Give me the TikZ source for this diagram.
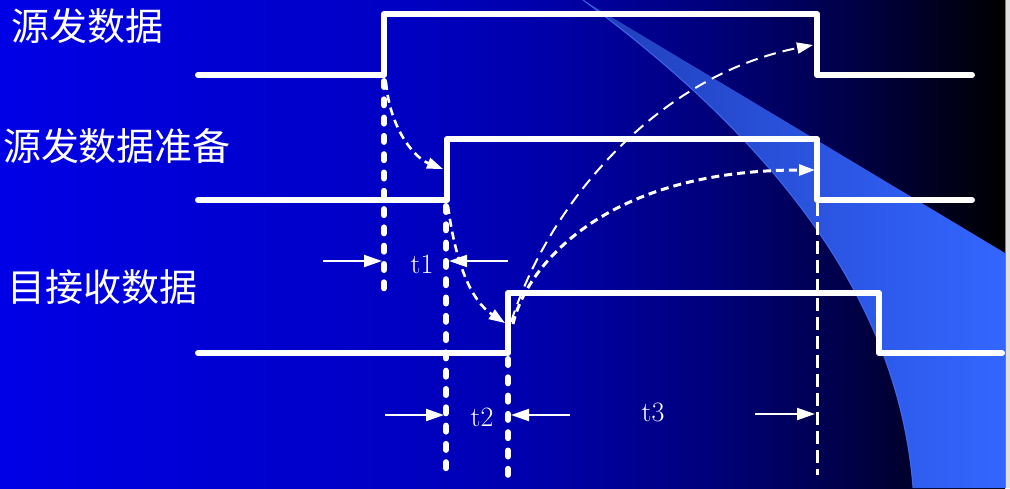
\documentclass[tikz,border=0pt]{standalone}
\usepackage{fontspec}
\newfontfamily\cjk{Noto Sans CJK SC}
\usetikzlibrary{arrows.meta}
\definecolor{bgA}{RGB}{0,0,230}
\definecolor{bgB}{RGB}{0,0,195}
\definecolor{bgC}{RGB}{0,0,168}
\definecolor{bgD}{RGB}{0,0,125}
\definecolor{bgE}{RGB}{0,0,70}
\definecolor{bandA}{RGB}{32,62,185}
\definecolor{bandB}{RGB}{51,102,255}
\definecolor{bandEdge}{RGB}{75,115,245}
\definecolor{frameG}{RGB}{225,225,225}
\pgfdeclarehorizontalshading{bgshade}{100bp}{color(0bp)=(bgA); color(25bp)=(bgA); color(45bp)=(bgB); color(52.5bp)=(bgC); color(60bp)=(bgD); color(67.5bp)=(bgE); color(75bp)=(black); color(100bp)=(black)}
\tikzset{
  wave/.style={white, line width=6pt, line join=round, line cap=round},
  thickdash/.style={white, line width=6pt, line cap=round, dash pattern=on 6pt off 12.3pt},
  thindash/.style={white, line width=3pt, dash pattern=on 13pt off 6pt},
  curvearrow/.style={white, line width=2.6pt, dash pattern=on 8pt off 5pt, -{Triangle[length=16pt,width=11pt]}},
  dimarrow/.style={white, line width=2pt, -{Triangle[length=18pt,width=12pt]}},
  lbl/.style={text=white, inner sep=0pt, font=\cjk\fontsize{38}{40}\selectfont},
  tlbl/.style={text=white, inner sep=0pt, font=\fontsize{28}{30}\selectfont},
}
\begin{document}
\begin{tikzpicture}[x=1pt, y=-1pt]
\useasboundingbox (0,0) rectangle (1010,488);
% background
\shade[shading=bgshade] (0,0) rectangle (1005,488);
\fill[frameG] (1005,0) rectangle (1010,488);
\draw[gray, line width=0.8pt] (1005.4,0) -- (1005.4,488);
% light band
\shade[left color=bandA, middle color=bandB, right color=bandB]
  (583,0) -- (1005,253) -- (1005,488) -- (913,488)
  .. controls (900,320) and (800,160) .. (583,0) -- cycle;
\draw[bandEdge, line width=1pt, opacity=0.8] (583,0) .. controls (800,160) and (900,320) .. (913,488);
% waveform corner coordinates
\coordinate (a0) at (198,75);  \coordinate (a1) at (384,75);  \coordinate (a2) at (384,14);
\coordinate (a3) at (817,14);  \coordinate (a4) at (817,75);  \coordinate (a5) at (972,75);
\coordinate (b0) at (198,200); \coordinate (b1) at (447,200); \coordinate (b2) at (447,139);
\coordinate (b3) at (817,139); \coordinate (b4) at (817,200); \coordinate (b5) at (972,200);
\coordinate (c0) at (198,353); \coordinate (c1) at (508,353); \coordinate (c2) at (508,293);
\coordinate (c3) at (879,293); \coordinate (c4) at (879,353); \coordinate (c5) at (1002,353);
\draw[wave] (a0) -- (a1) -- (a2) -- (a3) -- (a4) -- (a5);
\draw[wave] (b0) -- (b1) -- (b2) -- (b3) -- (b4) -- (b5);
\draw[wave] (c0) -- (c1) -- (c2) -- (c3) -- (c4) -- (c5);
% vertical dashed markers
\coordinate (v1t) at (384,81);  \coordinate (v1b) at (384,290);
\coordinate (v2t) at (446,206); \coordinate (v2b) at (446,473);
\coordinate (v3t) at (508,359); \coordinate (v3b) at (508,478);
\coordinate (v4t) at (817,203); \coordinate (v4b) at (817,475);
\draw[thickdash] (v1t) -- (v1b);
\draw[thickdash] (v2t) -- (v2b);
\draw[thickdash] (v3t) -- (v3b);
\draw[thindash] (v4t) -- (v4b);
% curved dashed arrows
\coordinate (k1s) at (386,82);  \coordinate (k1e) at (443,169);
\coordinate (k2s) at (448,206); \coordinate (k2e) at (505,323);
\coordinate (k3s) at (511,322); \coordinate (k3e) at (813,45);
\coordinate (k4s) at (513,324); \coordinate (k4e) at (815,170);
\draw[curvearrow] (k1s) .. controls (390,130) and (415,158) .. (k1e);
\draw[curvearrow] (k2s) .. controls (455,260) and (470,300) .. (k2e);
\draw[curvearrow, line width=2pt, dash pattern=on 12pt off 7pt] (k3s) .. controls (550,200) and (660,75) .. (k3e);
\draw[curvearrow, line width=3pt] (k4s) .. controls (525,270) and (600,170) .. (k4e);
% dimension arrows
\coordinate (d1a) at (323,261); \coordinate (d1b) at (382,261);
\coordinate (d1c) at (508,261); \coordinate (d1d) at (449,261);
\coordinate (d2a) at (385,415); \coordinate (d2b) at (444,415);
\coordinate (d2c) at (570,415); \coordinate (d2d) at (511,415);
\coordinate (d3a) at (755,414); \coordinate (d3b) at (815,414);
\draw[dimarrow] (d1a) -- (d1b);
\draw[dimarrow] (d1c) -- (d1d);
\draw[dimarrow] (d2a) -- (d2b);
\draw[dimarrow] (d2c) -- (d2d);
\draw[dimarrow] (d3a) -- (d3b);
% labels
\node[tlbl] (t1) at (422,264) {t1};
\node[tlbl] (t2) at (482,417) {t2};
\node[tlbl] (t3) at (653,412) {t3};
\node[lbl] (L1) at (88,26) {源发数据};
\node[lbl] (L2) at (117,146) {源发数据准备};
\node[lbl] (L3) at (103,287) {目接收数据};
\end{tikzpicture}
\end{document}
